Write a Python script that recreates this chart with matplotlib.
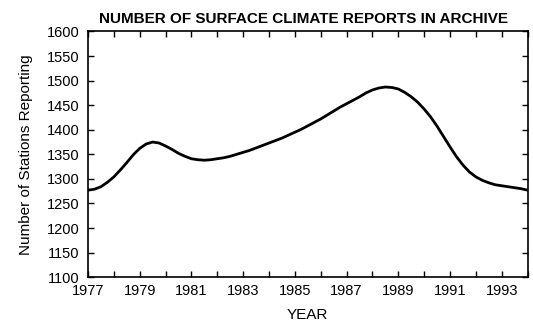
import matplotlib.pyplot as plt

plt.rcParams['font.family'] = ['Liberation Sans', 'DejaVu Sans']

# station counts, quarter-year steps
years = [1977.00, 1977.25, 1977.50, 1977.75, 1978.00, 1978.25, 1978.50, 1978.75,
         1979.00, 1979.25, 1979.50, 1979.75, 1980.00, 1980.25, 1980.50, 1980.75,
         1981.00, 1981.25, 1981.50, 1981.75, 1982.00, 1982.25, 1982.50, 1982.75,
         1983.00, 1983.25, 1983.50, 1983.75, 1984.00, 1984.25, 1984.50, 1984.75,
         1985.00, 1985.25, 1985.50, 1985.75, 1986.00, 1986.25, 1986.50, 1986.75,
         1987.00, 1987.25, 1987.50, 1987.75, 1988.00, 1988.25, 1988.50, 1988.75,
         1989.00, 1989.25, 1989.50, 1989.75, 1990.00, 1990.25, 1990.50, 1990.75,
         1991.00, 1991.25, 1991.50, 1991.75, 1992.00, 1992.25, 1992.50, 1992.75,
         1993.00, 1993.25, 1993.50, 1993.75, 1994.00]
stations = [1277, 1279, 1284, 1293, 1304, 1318, 1333, 1349,
            1362, 1371, 1375, 1373, 1367, 1360, 1352, 1346,
            1341, 1339, 1338, 1339, 1341, 1343, 1346, 1350,
            1354, 1358, 1363, 1368, 1373, 1378, 1383, 1389,
            1395, 1401, 1408, 1415, 1422, 1430, 1438, 1446,
            1453, 1460, 1467, 1475, 1481, 1485, 1487, 1486,
            1483, 1476, 1467, 1456, 1442, 1426, 1407, 1386,
            1365, 1345, 1328, 1314, 1304, 1297, 1292, 1288,
            1286, 1284, 1282, 1280, 1277]

x_ticks = list(range(1977, 1995))
x_labels = [str(y) if y % 2 == 1 and y < 1994 else '' for y in x_ticks]
y_ticks = list(range(1100, 1601, 50))

fig = plt.figure(figsize=(5.33, 3.28), dpi=100)
ax = fig.add_axes([0.165, 0.155, 0.825, 0.749])

ax.plot(years, stations, color='black', linewidth=2.0, solid_capstyle='butt')

ax.set_xlim(1977, 1994)
ax.set_ylim(1100, 1600)
ax.set_xticks(x_ticks)
ax.set_xticklabels(x_labels)
ax.set_yticks(y_ticks)
ax.tick_params(direction='in', length=4, width=1, top=True, right=True,
               labelsize=10.5, pad=5)
ax.tick_params(axis='y', pad=6)
for s in ax.spines.values():
    s.set_linewidth(1.2)

ax.set_title("NUMBER OF SURFACE CLIMATE REPORTS IN ARCHIVE",
             fontsize=11, fontweight='bold', pad=6, x=0.49)
ax.set_xlabel("YEAR", fontsize=11, labelpad=7)
ax.set_ylabel("Number of Stations Reporting", fontsize=11, labelpad=10)

fig.savefig('out.png', dpi=100)
